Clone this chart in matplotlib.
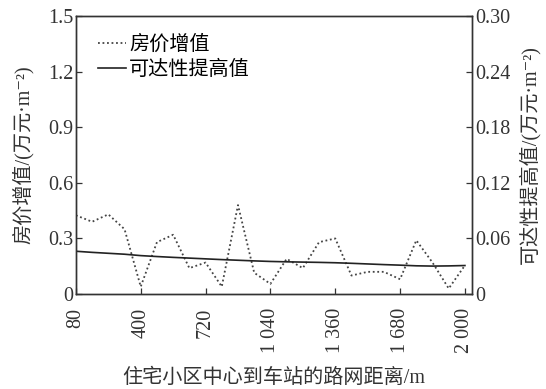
import numpy as np
import matplotlib
matplotlib.use('Agg')
import matplotlib.pyplot as plt

plt.rcParams['font.family'] = ['Liberation Serif', 'Noto Sans CJK SC', 'DejaVu Serif']
plt.rcParams['axes.unicode_minus'] = False

# distance from residential area centre to station (m)
distance = np.arange(80, 2001, 80)

# house price increment (left axis)
price_gain = [0.425, 0.39, 0.43, 0.35, 0.04, 0.28, 0.32, 0.14, 0.17, 0.04,
              0.48, 0.115, 0.055, 0.19, 0.14, 0.28, 0.30, 0.10, 0.12, 0.12,
              0.08, 0.29, 0.17, 0.03, 0.155]

# accessibility improvement (right axis)
access_gain = [0.0462, 0.0450, 0.0440, 0.0430, 0.0415, 0.0405, 0.0396, 0.0388,
               0.0380, 0.0372, 0.0365, 0.0358, 0.0352, 0.0348, 0.0345, 0.0342,
               0.0338, 0.0332, 0.0325, 0.0318, 0.0312, 0.0305, 0.0302, 0.0304,
               0.0308]

xticks = [80, 400, 720, 1040, 1360, 1680, 2000]
xtick_labels = ['80', '400', '720', '1 040', '1 360', '1 680', '2 000']
left_ticks = [0, 0.3, 0.6, 0.9, 1.2, 1.5]
left_labels = ['0', '0.3', '0.6', '0.9', '1.2', '1.5']
right_ticks = [0, 0.06, 0.12, 0.18, 0.24, 0.30]
right_labels = ['0', '0.06', '0.12', '0.18', '0.24', '0.30']

fig = plt.figure(figsize=(5.46, 3.89), dpi=100)
ax = fig.add_axes([0.139, 0.244, 0.7255, 0.715])
ax2 = ax.twinx()

l1, = ax.plot(distance, price_gain, linestyle=(0, (1.0, 1.5)), color='#444444',
              linewidth=1.3, label='房价增值')
l2, = ax2.plot(distance, access_gain, color='#222222', linewidth=1.2,
               label='可达性提高值')

ax.set_xlim(80, 2035)
ax.set_ylim(0, 1.5)
ax2.set_ylim(0, 0.30)

ax.set_xticks(xticks)
ax.set_xticklabels(xtick_labels, rotation=90, fontsize=14.5)
ax.set_yticks(left_ticks)
ax.set_yticklabels(left_labels, fontsize=14.5)
ax2.set_yticks(right_ticks)
ax2.set_yticklabels(right_labels, fontsize=14.5)

for a in (ax, ax2):
    a.tick_params(direction='in', length=4, width=0.9, pad=2, colors='#333333')
    for s in a.spines.values():
        s.set_color('#333333')
        s.set_linewidth(1.0)
ax.tick_params(axis='x', pad=10)

ax.set_xlabel('住宅小区中心到车站的路网距离/m', fontsize=14.5, color='#333333', labelpad=11)
ax.set_ylabel('房价增值/(万元·m⁻²)', fontsize=14.5, color='#333333', labelpad=10)
ax2.set_ylabel('可达性提高值/(万元·m⁻²)', fontsize=14.5, color='#333333', labelpad=6)

ax.legend(handles=[l1, l2], loc='upper left', frameon=False, fontsize=14.5,
          handlelength=1.4, handletextpad=0.15, borderaxespad=0.3,
          labelspacing=0.3, bbox_to_anchor=(0.02, 0.98))

fig.savefig('out.png', dpi=100)
